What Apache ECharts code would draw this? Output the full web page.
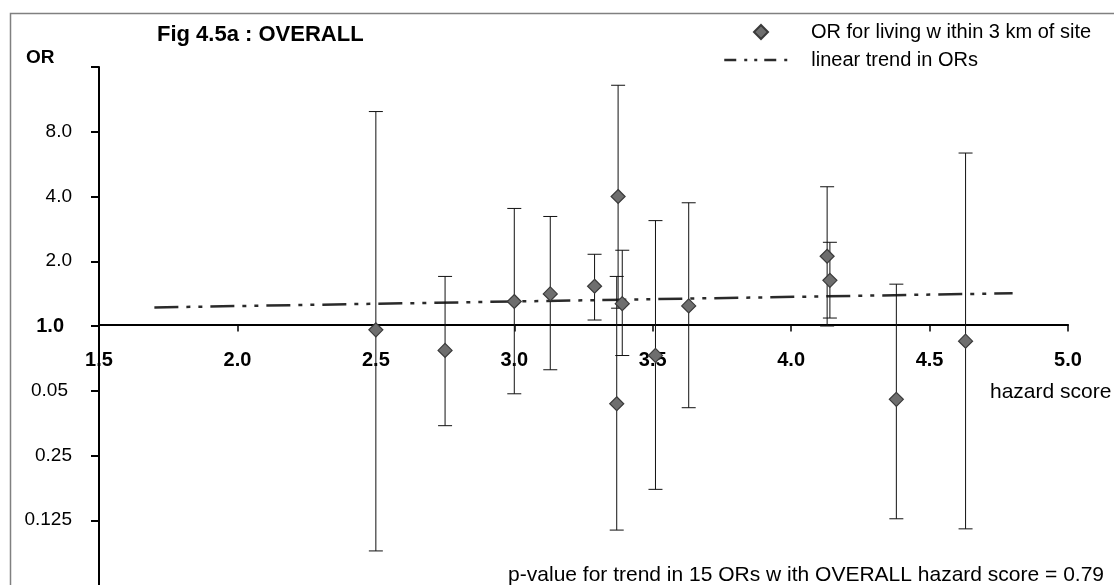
<!DOCTYPE html>
<html>
<head>
<meta charset="utf-8">
<title>Fig 4.5a : OVERALL</title>
<script src="https://cdn.jsdelivr.net/npm/echarts@6/dist/echarts.min.js"></script>
<style>
  html, body { margin: 0; padding: 0; background: #ffffff; }
  #chart { width: 1114px; height: 585px; }
</style>
</head>
<body>
<div id="chart"></div>
<script>
// Hazard score of each site group and its odds ratio (with 95% CI)
const hazardScore = [2.50, 2.75, 3.00, 3.13, 3.29, 3.375, 3.37, 3.39, 3.51, 3.63, 4.13, 4.14, 4.38, 4.63];
const oddsRatio   = [0.96, 0.77, 1.30, 1.41, 1.53, 4.00, 0.435, 1.27, 0.73, 1.24, 2.11, 1.63, 0.456, 0.85];
const ciLower     = [0.090, 0.344, 0.484, 0.626, 1.066, 1.21, 0.1125, 0.729, 0.174, 0.417, 1.00, 1.089, 0.127, 0.114];
const ciUpper     = [9.93, 1.70, 3.52, 3.23, 2.155, 13.16, 1.70, 2.25, 3.09, 3.74, 4.44, 2.45, 1.565, 6.37];

// Fitted linear trend (log OR against hazard score), end points
const trendScore = [1.7, 4.8];
const trendOR    = [1.22, 1.42];

// Axis ticks
const yTickValues = [0.0625, 0.125, 0.25, 0.5, 1, 2, 4, 8, 16];
const yTickLabels = ['', '0.125', '0.25', '0.05', '1.0', '2.0', '4.0', '8.0', ''];
const xMin = 1.5, xMax = 5.0, xStep = 0.5;

const SERIES_OR = 'OR for living w ithin 3 km of site';
const SERIES_TREND = 'linear trend in ORs';

const FONT = 'Liberation Sans, Arial, Helvetica, sans-serif';
const chart = echarts.init(document.getElementById('chart'), null, { renderer: 'canvas' });

const pointData = hazardScore.map((x, i) => [x, oddsRatio[i]]);
const ciData = hazardScore.map((x, i) => [x, ciLower[i], ciUpper[i]]);
const trendData = trendScore.map((x, i) => [x, trendOR[i]]);

function yLabel(v) {
  for (let i = 0; i < yTickValues.length; i++) {
    if (Math.abs(Math.log2(v) - Math.log2(yTickValues[i])) < 1e-6) {
      const t = yTickLabels[i];
      if (t === '') return '';
      if (t === '1.0') return '{b|' + t + '}';
      if (t === '0.05') return '{s|' + t + '}';
      return t;
    }
  }
  return '';
}

// Plot area: the log axis runs from 1/16 (at the bottom edge) up to 16
const GRID = { left: 99, right: 46, top: 67, height: 521 };
const logTop = Math.log2(yTickValues[yTickValues.length - 1]);
const logBottom = Math.log2(yTickValues[0]);
// the x axis crosses at OR = 1: distance from the grid bottom up to it
const oneOffset = GRID.height * (0 - logBottom) / (logTop - logBottom);
// ticks drawn on the OR axis (the 1/16 end of the axis carries none)
const yShownTicks = yTickValues.slice(1);

const option = {
  backgroundColor: '#ffffff',
  animation: false,
  textStyle: { fontFamily: FONT },
  grid: GRID,
  legend: [
    {
      orient: 'vertical',
      left: 748,
      top: 17,
      itemWidth: 14,
      itemHeight: 14,
      textStyle: { fontFamily: FONT, fontSize: 20, color: '#000', padding: [0, 0, 0, 38] },
      data: [{ name: SERIES_OR, icon: 'diamond' }]
    },
    {
      orient: 'vertical',
      left: 718,
      top: 45,
      itemWidth: 69,
      itemHeight: 13,
      textStyle: { fontFamily: FONT, fontSize: 20, color: '#000', padding: [0, 0, 0, 13] },
      data: [{
        name: SERIES_TREND,
        lineStyle: { type: [12, 8, 3, 7, 3, 7], width: 2.5, color: '#2a2a2a' },
        itemStyle: { color: 'rgba(0,0,0,0)', borderWidth: 0, opacity: 0 }
      }]
    }
  ],
  xAxis: {
    type: 'value',
    min: xMin,
    max: xMax,
    interval: xStep,
    position: 'bottom',
    offset: -oneOffset,
    axisLine: { onZero: false, lineStyle: { color: '#000', width: 2 } },
    axisTick: { show: true, inside: false, length: 7, lineStyle: { color: '#000', width: 1.5 } },
    axisLabel: {
      margin: 26,
      fontFamily: FONT, fontSize: 20, fontWeight: 'bold', color: '#000',
      formatter: v => v.toFixed(1)
    },
    splitLine: { show: false }
  },
  yAxis: {
    type: 'log',
    logBase: 2,
    min: yTickValues[0],
    max: yTickValues[yTickValues.length - 1],
    interval: 1,
    splitNumber: 8,
    axisLine: { show: true, lineStyle: { color: '#000', width: 2 } },
    axisTick: {
      show: true, inside: false, length: 8,
      customValues: yShownTicks,
      lineStyle: { color: '#000', width: 2 }
    },
    axisLabel: {
      margin: 27,
      customValues: yShownTicks,
      fontFamily: FONT, fontSize: 19, color: '#000',
      formatter: yLabel,
      rich: {
        b: { fontFamily: FONT, fontSize: 20, fontWeight: 'bold', color: '#000', padding: [0, 8, 0, 0] },
        s: { fontFamily: FONT, fontSize: 19, color: '#000', padding: [0, 4, 0, 0] }
      }
    },
    splitLine: { show: false }
  },
  series: [
    {
      name: SERIES_TREND,
      type: 'line',
      data: trendData,
      symbol: 'none',
      z: 3,
      itemStyle: { color: '#2a2a2a' },
      lineStyle: { color: '#2a2a2a', width: 2.5, type: [24, 8, 4, 8, 4, 8] }
    },
    {
      name: 'CI',
      type: 'custom',
      data: ciData,
      encode: { x: 0, y: [1, 2] },
      z: 4,
      renderItem: function (params, api) {
        const x = api.value(0);
        const top = api.coord([x, api.value(2)]);
        const bot = api.coord([x, api.value(1)]);
        const half = 7;
        const st = { stroke: '#111', lineWidth: 1 };
        return {
          type: 'group',
          children: [
            { type: 'line', shape: { x1: top[0], y1: top[1], x2: bot[0], y2: bot[1] }, style: st },
            { type: 'line', shape: { x1: top[0] - half, y1: top[1], x2: top[0] + half, y2: top[1] }, style: st },
            { type: 'line', shape: { x1: bot[0] - half, y1: bot[1], x2: bot[0] + half, y2: bot[1] }, style: st }
          ]
        };
      }
    },
    {
      name: SERIES_OR,
      type: 'scatter',
      data: pointData,
      symbol: 'diamond',
      symbolSize: 14,
      z: 5,
      itemStyle: { color: '#6e6e6e', borderColor: '#3a3a3a', borderWidth: 1.2, opacity: 1 }
    }
  ],
  graphic: [
    {
      type: 'rect', silent: true, z: -10,
      shape: { x: 10.5, y: 13.5, width: 1200, height: 700 },
      style: { fill: 'none', stroke: '#808080', lineWidth: 1.5 }
    },
    {
      type: 'text', left: 157, top: 24,
      style: { text: 'Fig 4.5a : OVERALL', font: 'bold 22px ' + FONT, fill: '#000' }
    },
    {
      type: 'text', left: 26, top: 48,
      style: { text: 'OR', font: 'bold 19px ' + FONT, fill: '#000' }
    },
    {
      type: 'text', left: 990, top: 382,
      style: { text: 'hazard score', font: '21px ' + FONT, fill: '#000' }
    },
    {
      type: 'text', right: 10, top: 565,
      style: { text: 'p-value for trend in 15 ORs w ith OVERALL hazard score = 0.79', font: '21px ' + FONT, fill: '#000' }
    }
  ]
};

chart.setOption(option);
</script>
</body>
</html>
